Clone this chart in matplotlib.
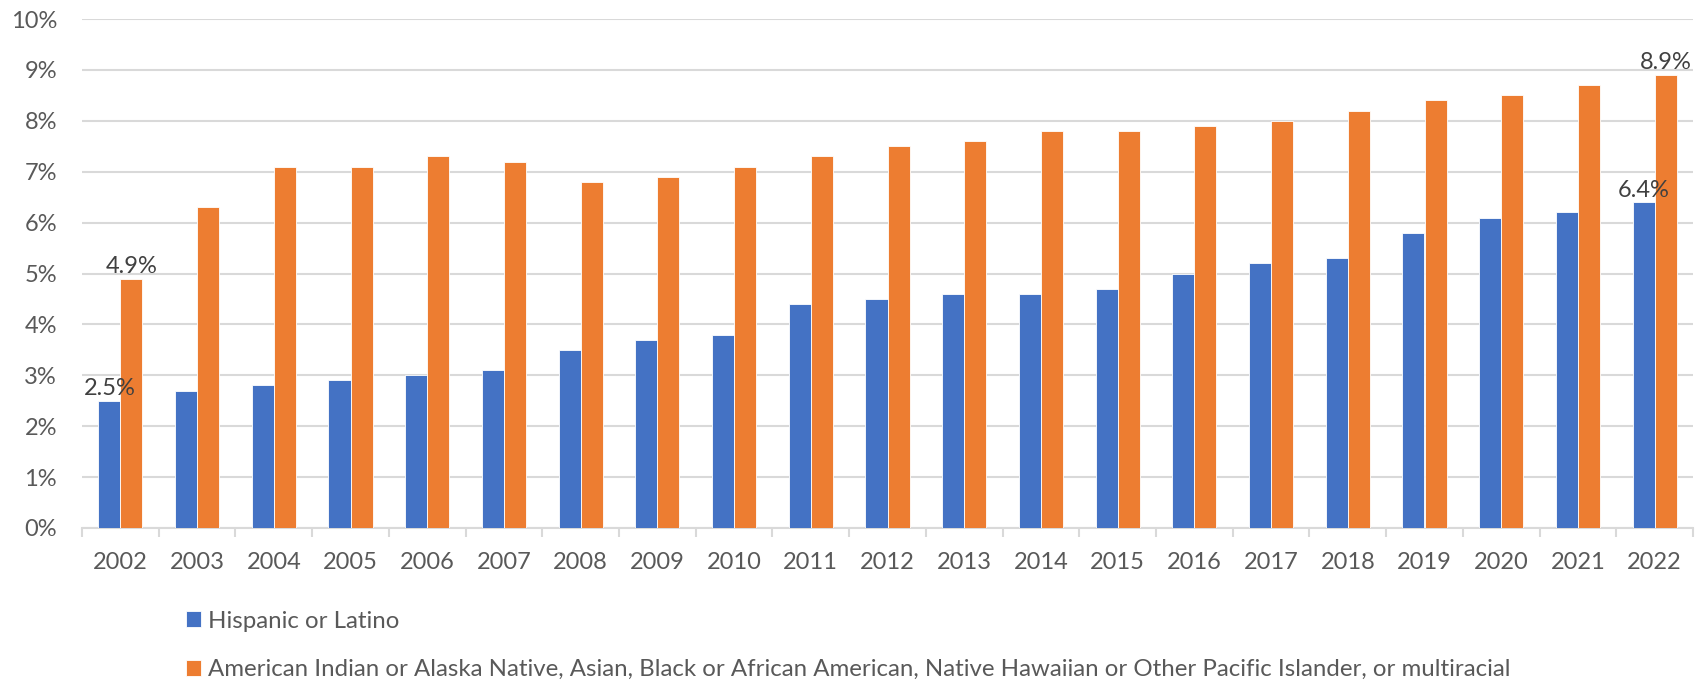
import numpy as np
import matplotlib
matplotlib.use('Agg')
import matplotlib.pyplot as plt
from matplotlib.ticker import FuncFormatter, FixedLocator

years = [str(y) for y in range(2002, 2023)]
hispanic = [2.5, 2.7, 2.8, 2.9, 3.0, 3.1, 3.5, 3.7, 3.8, 4.4, 4.5,
            4.6, 4.6, 4.7, 5.0, 5.2, 5.3, 5.8, 6.1, 6.2, 6.4]
other = [4.9, 6.3, 7.1, 7.1, 7.3, 7.2, 6.8, 6.9, 7.1, 7.3, 7.5,
         7.6, 7.8, 7.8, 7.9, 8.0, 8.2, 8.4, 8.5, 8.7, 8.9]
labels = ['Hispanic or Latino',
          'American Indian or Alaska Native, Asian, Black or African American, '
          'Native Hawaiian or Other Pacific Islander, or multiracial']

plt.rcParams['font.family'] = ['Lato', 'DejaVu Sans']

blue = '#4472C4'
orange = '#ED7D31'
grid = '#D9D9D9'
txt = '#595959'

fig = plt.figure(figsize=(17.05, 6.8), dpi=100)
ax = fig.add_axes([82 / 1705, 1 - 528 / 680, (1693 - 82) / 1705, (528 - 19) / 680])

x = np.arange(len(years))
w = 0.287
b1 = ax.bar(x - w / 2, hispanic, w, color=blue, edgecolor='white', linewidth=0.6, label=labels[0], zorder=3)
b2 = ax.bar(x + w / 2, other, w, color=orange, edgecolor='white', linewidth=0.6, label=labels[1], zorder=3)

ax.set_ylim(0, 10)
ax.set_xlim(-0.5, len(years) - 0.5)
ax.set_yticks(range(0, 11))
ax.yaxis.set_major_formatter(FuncFormatter(lambda v, p: f'{int(v)}%'))
ax.yaxis.grid(True, color=grid, linewidth=1.5, zorder=0)
ax.set_xticks(x)
ax.set_xticklabels(years)
ax.xaxis.set_minor_locator(FixedLocator(np.arange(-0.5, len(years), 1.0)))

for s in ['top', 'right', 'left']:
    ax.spines[s].set_visible(False)
ax.spines['bottom'].set_color(grid)
ax.spines['bottom'].set_linewidth(1.5)

ax.tick_params(axis='y', length=0, pad=18, labelsize=17, labelcolor=txt)
ax.tick_params(axis='x', which='major', length=0, pad=17, labelsize=17, labelcolor=txt)
ax.tick_params(axis='x', which='minor', length=6.5, width=1.5, color=grid)

# data labels on first and last year
for idx in [0, len(years) - 1]:
    ax.text(x[idx] - w / 2, hispanic[idx] + 0.03, f'{hispanic[idx]:.1f}%', ha='center', va='bottom',
            fontsize=17, color='#404040', zorder=4)
    ax.text(x[idx] + w / 2, other[idx] + 0.03, f'{other[idx]:.1f}%', ha='center', va='bottom',
            fontsize=17, color='#404040', zorder=4)

fig.legend(handles=[b1, b2], labels=labels, loc='upper left', bbox_to_anchor=(176 / 1705, 1 - 601 / 680),
           frameon=False, fontsize=17.3, labelcolor=txt, handlelength=0.65, handleheight=0.65,
           handletextpad=0.3, labelspacing=1.15, borderaxespad=0)

fig.savefig('out.png', dpi=100)
